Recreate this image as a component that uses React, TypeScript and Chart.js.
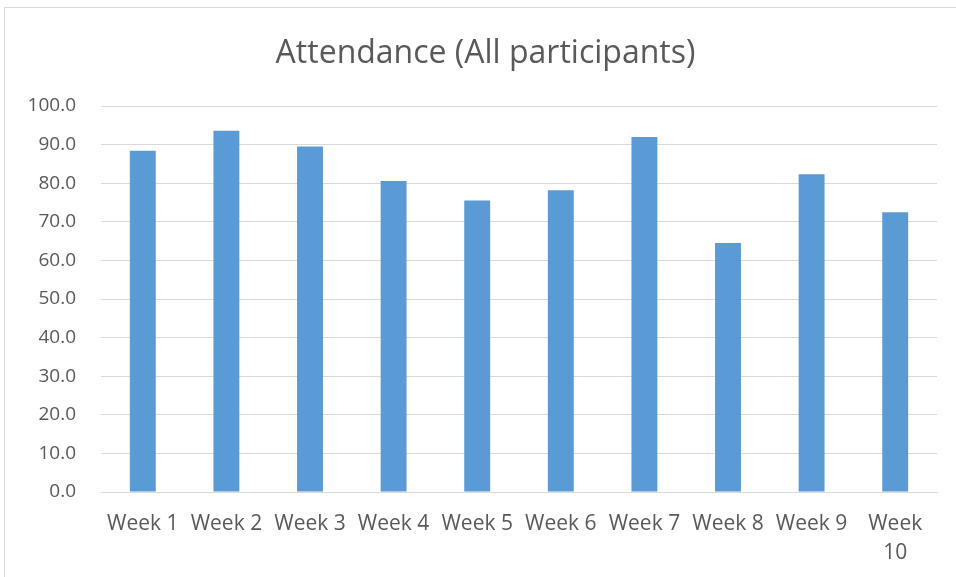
import React, { useEffect, useRef } from "react";
import { Chart, registerables } from "chart.js";

Chart.register(...registerables);

const categories: (string | string[])[] = [
  "Week 1", "Week 2", "Week 3", "Week 4", "Week 5",
  "Week 6", "Week 7", "Week 8", "Week 9", ["Week", "10"],
];
const attendance = [88.4, 93.6, 89.5, 80.6, 75.5, 78.2, 92.0, 64.5, 82.3, 72.5];
const titleText = "Attendance (All participants)";

const titlePlugin = {
  id: "excelTitle",
  afterDraw(chart: any) {
    const ctx = chart.ctx;
    ctx.save();
    ctx.font = "32px 'Open Sans', sans-serif";
    ctx.fillStyle = "#595959";
    ctx.textAlign = "center";
    ctx.textBaseline = "alphabetic";
    ctx.fillText(titleText, 485.5, 62.5);
    ctx.restore();
  },
};

export default function App() {
  const ref = useRef<HTMLCanvasElement>(null);
  useEffect(() => {
    if (!ref.current) return;
    const chart = new Chart(ref.current, {
      type: "bar",
      data: {
        labels: categories,
        datasets: [
          {
            data: attendance,
            backgroundColor: "#5B9BD5",
            borderWidth: 0,
            barPercentage: 0.31,
            categoryPercentage: 1,
          },
        ],
      },
      options: {
        animation: false,
        responsive: false,
        devicePixelRatio: 1,
        layout: { padding: { left: 0, right: 19, top: 106, bottom: 0 } },
        plugins: {
          legend: { display: false },
          tooltip: { enabled: false },
          title: { display: false },
        },
        scales: {
          x: {
            grid: { display: false, drawTicks: false },
            border: { display: true, color: "#d9d9d9", width: 1 },
            ticks: {
              color: "#595959",
              font: { family: "'Open Sans', sans-serif", size: 21, lineHeight: 1.4 },
              padding: 17,
              maxRotation: 0,
              autoSkip: false,
            },
            afterFit: (s: any) => { s.height = 85; },
          },
          y: {
            min: 0,
            max: 100,
            grid: { color: "#d9d9d9", lineWidth: 1, drawTicks: false },
            border: { display: false },
            ticks: {
              stepSize: 10,
              color: "#595959",
              font: { family: "'Open Sans', sans-serif", size: 19 },
              padding: 25,
              callback: (v: any) => Number(v).toFixed(1),
            },
            afterFit: (s: any) => { s.width = 101; },
          },
        },
      },
      plugins: [titlePlugin],
    });
    return () => chart.destroy();
  }, []);
  return (
    <div style={{ position: "fixed", left: 0, top: 0, width: 956, height: 577, overflow: "hidden", background: "#fff" }}>
      <div style={{ position: "absolute", left: 4, top: 7, width: 1000, height: 1000, border: "1px solid #d9d9d9" }} />
      <canvas ref={ref} width={956} height={577} style={{ position: "absolute", left: 0, top: 0 }} />
    </div>
  );
}
